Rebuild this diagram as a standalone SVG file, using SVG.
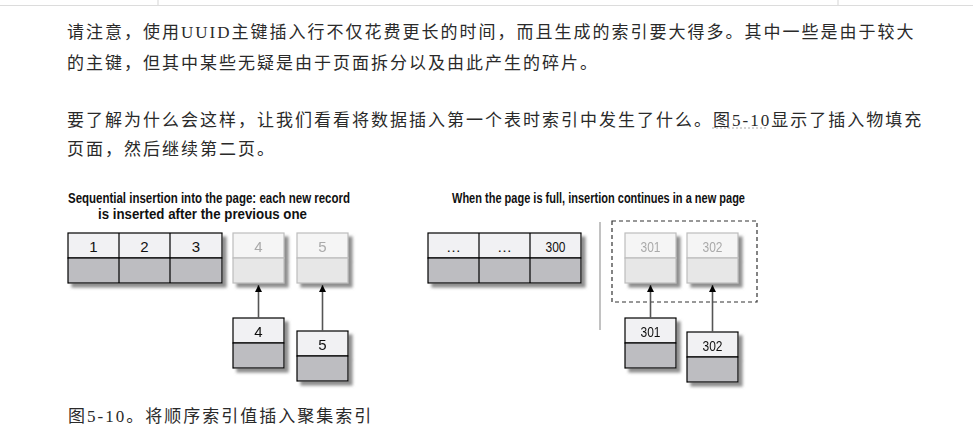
<svg xmlns="http://www.w3.org/2000/svg" width="973" height="436" viewBox="0 0 973 436">
<defs>
<filter id="sh" x="-20%" y="-20%" width="150%" height="150%">
<feDropShadow dx="4" dy="4" stdDeviation="1.6" flood-color="#7a7a7a" flood-opacity="0.85"/>
</filter>
<marker id="ah" viewBox="0 0 10 10" refX="10" refY="5" markerWidth="8" markerHeight="7" markerUnits="userSpaceOnUse" orient="auto">
<path d="M0,0 L10,5 L0,10 z" fill="#000"/>
</marker>
<style>
.p{font-family:"Liberation Serif","Noto Sans CJK SC",serif;font-size:17px;letter-spacing:2px;fill:#2a2a2a}
.t{font-family:"Liberation Sans Narrow","Liberation Sans",sans-serif;font-size:15.5px;font-weight:bold;fill:#111}
.n{font-family:"Liberation Sans Narrow","Liberation Sans",sans-serif;font-size:15px;fill:#111;text-anchor:middle}
.ng{font-family:"Liberation Sans Narrow","Liberation Sans",sans-serif;font-size:15px;fill:#aaa;text-anchor:middle}
.dt{fill:#f1f1f3;stroke:#000;stroke-width:1.2}
.db{fill:#bdbdc1;stroke:#000;stroke-width:1.2}
.lt{fill:#f5f5f5;stroke:#bdbdbd;stroke-width:1.2}
.lb{fill:#e7e7e7;stroke:#bdbdbd;stroke-width:1.2}
.c{stroke:#555;stroke-width:1.6;fill:none;marker-end:url(#ah)}
</style>
</defs>
<rect width="973" height="436" fill="#fff"/>
<g id="frame" stroke="#dcdcdc" stroke-width="1.2">
<line x1="0" y1="5.5" x2="973" y2="5.5"/>
<line x1="158" y1="0" x2="158" y2="5"/>
<line x1="838" y1="0" x2="838" y2="5"/>
</g>
<g id="paragraphs">
<text class="p" x="67" y="37.5">请注意，使用UUID主键插入行不仅花费更长的时间，而且生成的索引要大得多。其中一些是由于较大</text>
<text class="p" x="67" y="69">的主键，但其中某些无疑是由于页面拆分以及由此产生的碎片。</text>
<text class="p" x="67" y="125.5">要了解为什么会这样，让我们看看将数据插入第一个表时索引中发生了什么。图5-10显示了插入物填充</text>
<line x1="712" y1="128" x2="768" y2="128" stroke="#aaa" stroke-width="1" stroke-dasharray="2 2"/>
<text class="p" x="67" y="154.5">页面，然后继续第二页。</text>
</g>
<g id="title-left">
<text class="t" x="68" y="203" textLength="282" lengthAdjust="spacingAndGlyphs">Sequential insertion into the page:  each new record</text>
<text class="t" x="98" y="219" textLength="209" lengthAdjust="spacingAndGlyphs">is inserted after the previous one</text>
</g>
<g id="title-right">
<text class="t" x="452" y="203" textLength="293" lengthAdjust="spacingAndGlyphs">When the page is full, insertion continues in a new page</text>
</g>
<g id="page-1-3" filter="url(#sh)">
<rect class="dt" x="68" y="233" width="154" height="25"/>
<rect class="db" x="68" y="258" width="154" height="25"/>
<line x1="119" y1="233" x2="119" y2="283" stroke="#000" stroke-width="1.2"/>
<line x1="170" y1="233" x2="170" y2="283" stroke="#000" stroke-width="1.2"/>
</g>
<g id="page-1-3-labels">
<text class="n" x="93.5" y="251.5">1</text>
<text class="n" x="144.5" y="251.5">2</text>
<text class="n" x="196" y="251.5">3</text>
</g>
<g id="slot-4" filter="url(#sh)">
<rect class="lt" x="233" y="233" width="51" height="25"/>
<rect class="lb" x="233" y="258" width="51" height="25"/>
<text class="ng" x="258.5" y="251.5">4</text>
</g>
<g id="slot-5" filter="url(#sh)">
<rect class="lt" x="297" y="233" width="51" height="25"/>
<rect class="lb" x="297" y="258" width="51" height="25"/>
<text class="ng" x="322.5" y="251.5">5</text>
</g>
<g id="rec-4" filter="url(#sh)">
<rect class="dt" x="233" y="318" width="51" height="25"/>
<rect class="db" x="233" y="343" width="51" height="25"/>
<text class="n" x="258.5" y="336.5">4</text>
</g>
<g id="rec-5" filter="url(#sh)">
<rect class="dt" x="297" y="331" width="51" height="25"/>
<rect class="db" x="297" y="356" width="51" height="25"/>
<text class="n" x="322.5" y="349.5">5</text>
</g>
<g id="page-300" filter="url(#sh)">
<rect class="dt" x="428" y="233" width="153" height="25"/>
<rect class="db" x="428" y="258" width="153" height="25"/>
<line x1="479" y1="233" x2="479" y2="283" stroke="#000" stroke-width="1.2"/>
<line x1="530" y1="233" x2="530" y2="283" stroke="#000" stroke-width="1.2"/>
</g>
<g id="page-300-labels">
<text class="n" x="453.5" y="251.5">…</text>
<text class="n" x="504.5" y="251.5">…</text>
<text class="n" x="555.5" y="251.5" textLength="20" lengthAdjust="spacingAndGlyphs">300</text>
</g>
<g id="separator">
<line x1="600" y1="222" x2="600" y2="330" stroke="#999" stroke-width="1.2"/>
</g>
<g id="new-page">
<rect x="612" y="221" width="145" height="81" fill="none" stroke="#333" stroke-width="1.2" stroke-dasharray="4 3"/>
</g>
<g id="slot-301" filter="url(#sh)">
<rect class="lt" x="625" y="233" width="51" height="25"/>
<rect class="lb" x="625" y="258" width="51" height="25"/>
<text class="ng" x="650.5" y="251.5" textLength="20" lengthAdjust="spacingAndGlyphs">301</text>
</g>
<g id="slot-302" filter="url(#sh)">
<rect class="lt" x="687" y="233" width="51" height="25"/>
<rect class="lb" x="687" y="258" width="51" height="25"/>
<text class="ng" x="712.5" y="251.5" textLength="20" lengthAdjust="spacingAndGlyphs">302</text>
</g>
<g id="rec-301" filter="url(#sh)">
<rect class="dt" x="625" y="318" width="51" height="25"/>
<rect class="db" x="625" y="343" width="51" height="25"/>
<text class="n" x="650.5" y="336.5" textLength="20" lengthAdjust="spacingAndGlyphs">301</text>
</g>
<g id="rec-302" filter="url(#sh)">
<rect class="dt" x="687" y="332" width="51" height="25"/>
<rect class="db" x="687" y="357" width="51" height="25"/>
<text class="n" x="712.5" y="350.5" textLength="20" lengthAdjust="spacingAndGlyphs">302</text>
</g>
<g id="connectors">
<line class="c" x1="258.5" y1="318" x2="258.5" y2="285"/>
<line class="c" x1="322.5" y1="331" x2="322.5" y2="285"/>
<line class="c" x1="650.5" y1="318" x2="650.5" y2="285"/>
<line class="c" x1="712.5" y1="332" x2="712.5" y2="285"/>
</g>
<g id="caption">
<text class="p" x="68" y="421.5">图5-10。将顺序索引值插入聚集索引</text>
</g>
</svg>
